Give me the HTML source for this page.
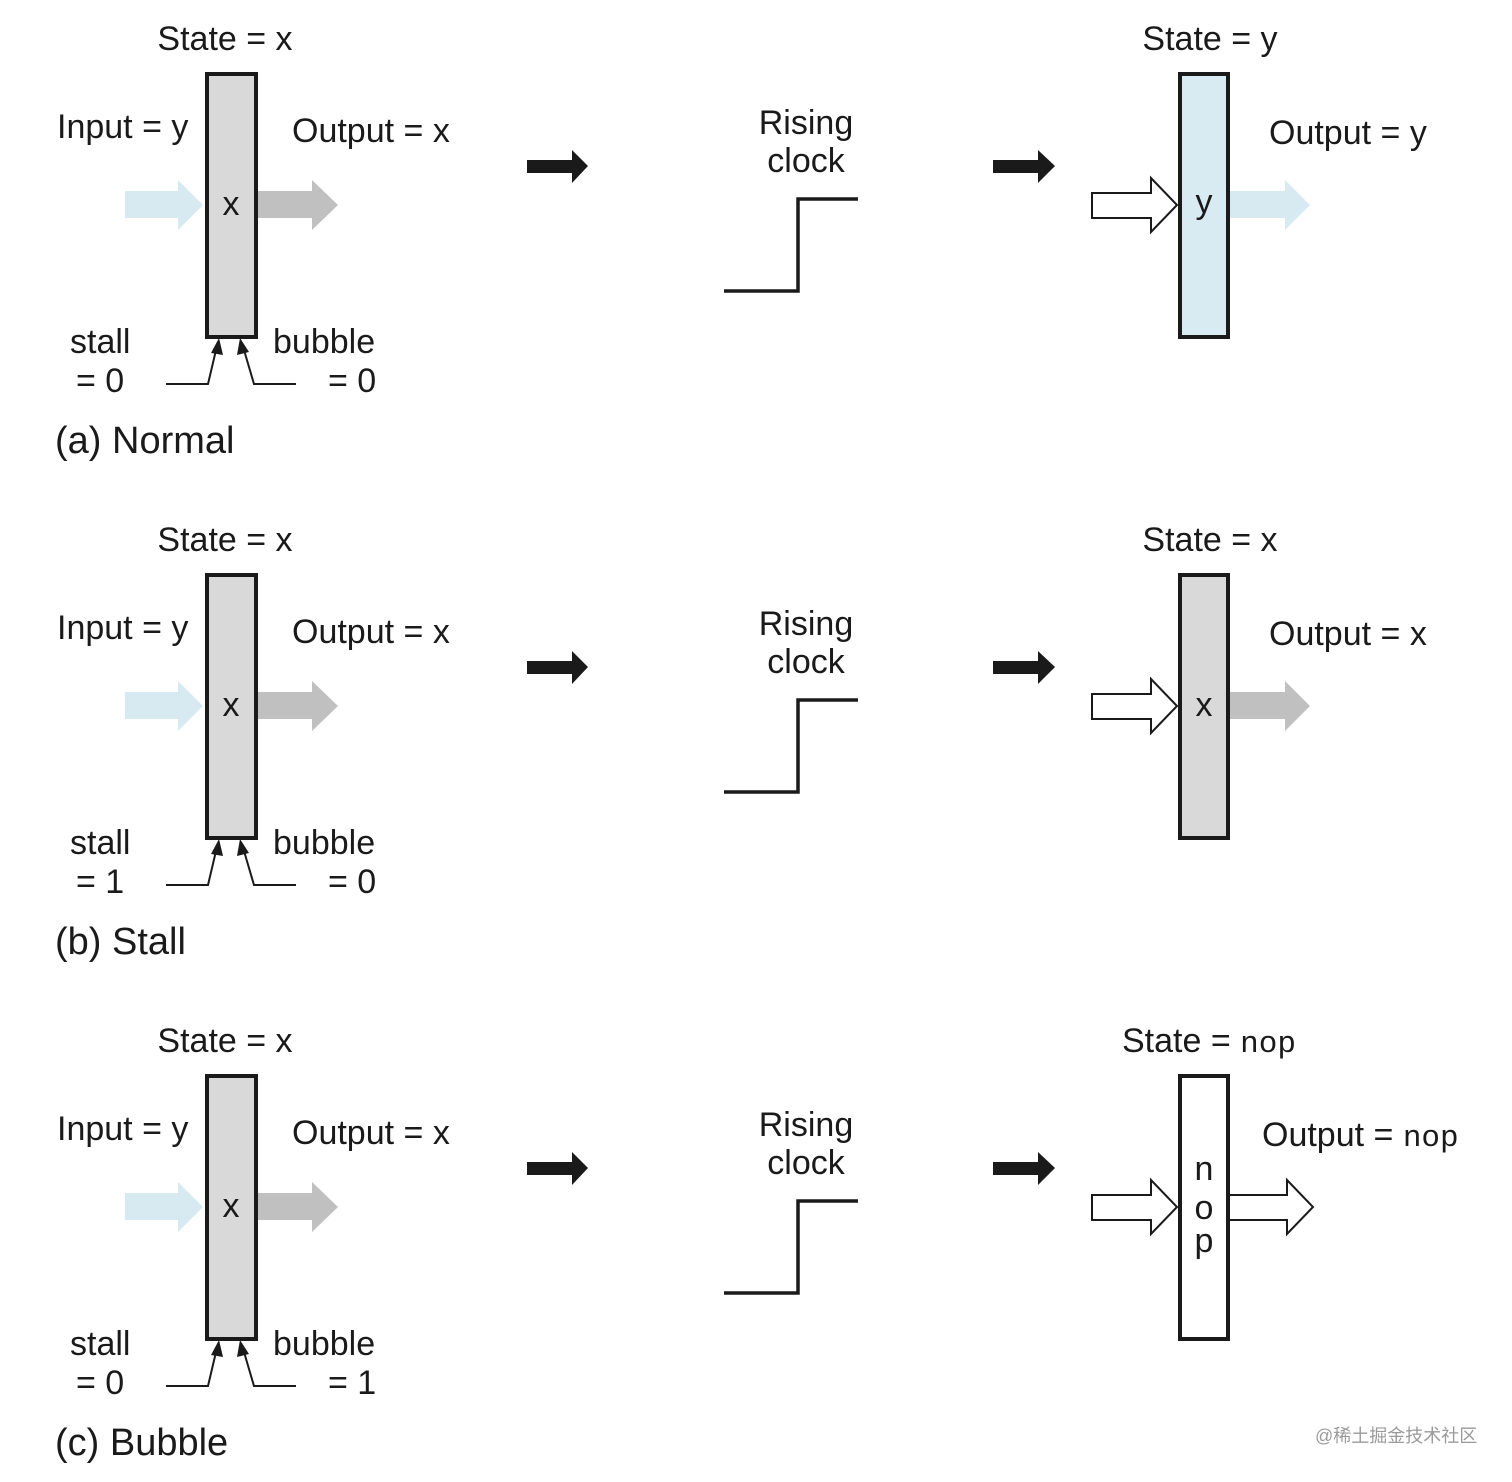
<!DOCTYPE html>
<html><head><meta charset="utf-8"><style>
html,body{margin:0;padding:0;background:#fff;}
svg{display:block;}
text{font-family:"Liberation Sans",Arial,sans-serif;fill:#1a1a1a;}
.t{font-size:34px;}
.cap{font-size:38px;}
.m{font-family:"Liberation Mono","DejaVu Sans Mono",monospace;font-size:31px;}
</style></head><body>
<svg width="1512" height="1482" viewBox="0 0 1512 1482" xmlns="http://www.w3.org/2000/svg">
<defs>
  <g id="left">
    <polygon points="125,191 178,191 178,180 203,205 178,230 178,218 125,218" fill="#d7eaf1"/>
    <polygon points="256,191 312,191 312,180 338,205 312,230 312,218 256,218" fill="#c0c0c0"/>
    <rect x="207" y="74" width="49" height="263" fill="#d9d9d9" stroke="#1a1a1a" stroke-width="4"/>
    <polyline points="166,384 208,384 216,350" fill="none" stroke="#1a1a1a" stroke-width="2"/>
    <polygon points="219,338 211,353 223,355" fill="#1a1a1a"/>
    <polyline points="296,384 254,384 244,350" fill="none" stroke="#1a1a1a" stroke-width="2"/>
    <polygon points="240,338 237,355 249,352" fill="#1a1a1a"/>
    <polygon points="527,160 572,160 572,150 588,166 572,183 572,173 527,173" fill="#1a1a1a"/>
    <polyline points="724,291 798,291 798,199 858,199" fill="none" stroke="#1a1a1a" stroke-width="3.5"/>
    <polygon points="993,160 1038,160 1038,150 1055,166 1038,183 1038,173 993,173" fill="#1a1a1a"/>
    <polygon points="1092,193 1151,193 1151,178 1177,205 1151,232 1151,218 1092,218" fill="#fff" stroke="#1a1a1a" stroke-width="2"/>
  </g>
</defs>

<!-- Panel a -->
<g>
  <use href="#left"/>
  <text class="t" x="225" y="50" text-anchor="middle">State = x</text>
  <text class="t" x="57" y="138">Input = y</text>
  <text class="t" x="292" y="142">Output = x</text>
  <text class="t" x="231" y="215" text-anchor="middle">x</text>
  <text class="t" x="70" y="353">stall</text>
  <text class="t" x="76" y="392">= 0</text>
  <text class="t" x="273" y="353">bubble</text>
  <text class="t" x="328" y="392">= 0</text>
  <text class="cap" x="55" y="453">(a) Normal</text>
  <text class="t" x="806" y="134" text-anchor="middle">Rising</text>
  <text class="t" x="806" y="172" text-anchor="middle">clock</text>
  <polygon points="1228,191 1285,191 1285,180 1310,205 1285,230 1285,218 1228,218" fill="#d7eaf1"/>
  <rect x="1180" y="74" width="48" height="263" fill="#d9ebf2" stroke="#1a1a1a" stroke-width="4"/>
  <text class="t" x="1210" y="50" text-anchor="middle">State = y</text>
  <text class="t" x="1269" y="144">Output = y</text>
  <text class="t" x="1204" y="213" text-anchor="middle">y</text>
</g>

<!-- Panel b -->
<g transform="translate(0,501)">
  <use href="#left"/>
  <text class="t" x="225" y="50" text-anchor="middle">State = x</text>
  <text class="t" x="57" y="138">Input = y</text>
  <text class="t" x="292" y="142">Output = x</text>
  <text class="t" x="231" y="215" text-anchor="middle">x</text>
  <text class="t" x="70" y="353">stall</text>
  <text class="t" x="76" y="392">= 1</text>
  <text class="t" x="273" y="353">bubble</text>
  <text class="t" x="328" y="392">= 0</text>
  <text class="cap" x="55" y="453">(b) Stall</text>
  <text class="t" x="806" y="134" text-anchor="middle">Rising</text>
  <text class="t" x="806" y="172" text-anchor="middle">clock</text>
  <polygon points="1228,191 1285,191 1285,180 1310,205 1285,230 1285,218 1228,218" fill="#c0c0c0"/>
  <rect x="1180" y="74" width="48" height="263" fill="#d9d9d9" stroke="#1a1a1a" stroke-width="4"/>
  <text class="t" x="1210" y="50" text-anchor="middle">State = x</text>
  <text class="t" x="1269" y="144">Output = x</text>
  <text class="t" x="1204" y="215" text-anchor="middle">x</text>
</g>

<!-- Panel c -->
<g transform="translate(0,1002)">
  <use href="#left"/>
  <text class="t" x="225" y="50" text-anchor="middle">State = x</text>
  <text class="t" x="57" y="138">Input = y</text>
  <text class="t" x="292" y="142">Output = x</text>
  <text class="t" x="231" y="215" text-anchor="middle">x</text>
  <text class="t" x="70" y="353">stall</text>
  <text class="t" x="76" y="392">= 0</text>
  <text class="t" x="273" y="353">bubble</text>
  <text class="t" x="328" y="392">= 1</text>
  <text class="cap" x="55" y="453">(c) Bubble</text>
  <text class="t" x="806" y="134" text-anchor="middle">Rising</text>
  <text class="t" x="806" y="172" text-anchor="middle">clock</text>
  <polygon points="1228,193 1287,193 1287,178 1313,205 1287,232 1287,218 1228,218" fill="#fff" stroke="#1a1a1a" stroke-width="2"/>
  <rect x="1180" y="74" width="48" height="263" fill="#fff" stroke="#1a1a1a" stroke-width="4"/>
  <text x="1122" y="50"><tspan class="t">State = </tspan><tspan class="m">nop</tspan></text>
  <text x="1262" y="144"><tspan class="t">Output = </tspan><tspan class="m">nop</tspan></text>
  <text class="t" x="1204" y="178" text-anchor="middle">n</text>
  <text class="t" x="1204" y="217" text-anchor="middle">o</text>
  <text class="t" x="1204" y="250" text-anchor="middle">p</text>
</g>

<text x="1315" y="1442" style="font-family:'Liberation Sans','Noto Sans CJK SC',sans-serif;font-size:18px;fill:#9a9a9a;">@稀土掘金技术社区</text>
</svg>
</body></html>
